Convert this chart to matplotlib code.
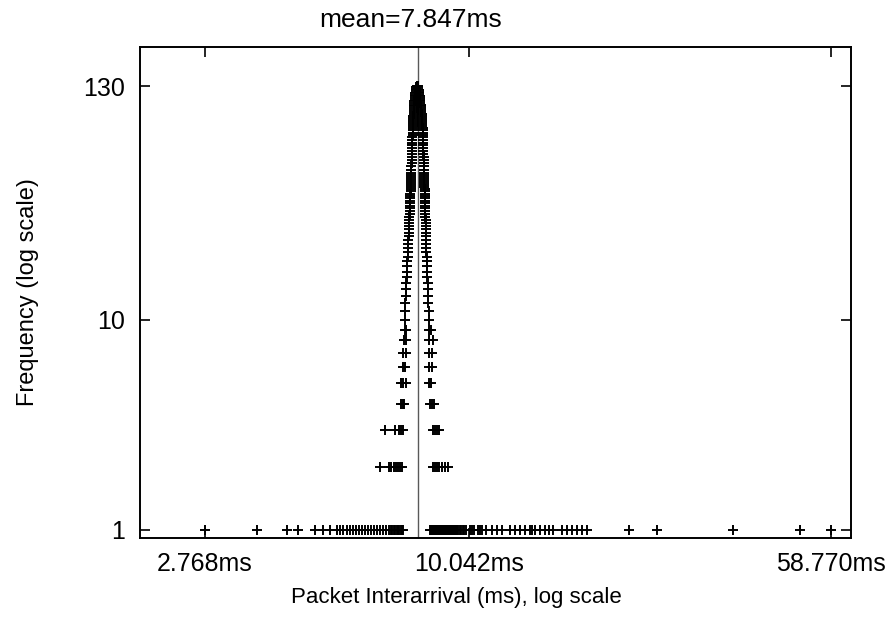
import numpy as np
import matplotlib
matplotlib.use("Agg")
import matplotlib.pyplot as plt
from matplotlib.ticker import NullLocator

plt.rcParams['font.family'] = ['Liberation Sans', 'DejaVu Sans']

mean_ms = 7.847
x_ticks = [2.768, 10.042, 58.770]
x_tick_labels = ["2.768ms", "10.042ms", "58.770ms"]
y_ticks = [1, 10, 130]
y_tick_labels = ["1", "10", "130"]

# interarrival values (ms) seen once
ms_at_1 = [2.768, 3.568, 4.130, 4.360, 4.736, 4.925, 5.096, 5.273, 5.350, 5.429,
           5.536, 5.617, 5.699, 5.783, 5.868, 5.954, 6.042, 6.131, 6.221, 6.313,
           6.406, 6.506, 6.601, 6.698, 6.797, 6.850, 6.897, 6.950, 6.998, 7.050,
           7.101, 7.150, 7.205, 7.240, 7.275,
           8.298, 8.330, 8.360, 8.400, 8.421, 8.460, 8.500, 8.545, 8.580, 8.630,
           8.671, 8.720, 8.760, 8.798, 8.840, 8.890, 8.928, 8.970, 9.020, 9.060,
           9.110, 9.150, 9.194, 9.240, 9.280, 9.330, 9.380, 9.420, 9.467, 9.540,
           9.608, 9.680, 9.750, 9.820, 9.894, 10.09, 10.19, 10.29, 10.49, 10.60,
           10.70, 10.91, 11.23, 11.51, 11.80, 12.26, 12.56, 12.88, 13.20, 13.52,
           13.68, 13.85, 14.20, 14.55, 14.83, 15.13, 15.81, 16.20, 16.60, 17.01,
           17.43, 17.86, 21.92, 25.13, 36.43, 50.50, 58.77]
ms_at_2 = [6.506, 6.797, 6.864, 6.964, 7.032, 7.101, 7.170, 7.240,
           8.421, 8.503, 8.587, 8.671, 8.798, 8.928, 9.060]
ms_at_3 = [6.666, 6.998, 7.135, 7.205, 7.275, 8.421, 8.503, 8.587, 8.671]
ms_at_4 = [7.205, 7.275, 7.311, 8.298, 8.380, 8.462]
ms_at_5 = [7.205, 7.275, 7.382, 8.258, 8.339]
ms_at_6 = [7.275, 7.346, 8.258, 8.380]
ms_at_7 = [7.275, 7.382, 8.258, 8.380]
ms_at_8 = [7.311, 7.382, 8.258, 8.421]
ms_at_9 = [7.346, 7.382, 8.258, 8.339]

# higher counts: one value on each side of the mean
branch_freq = [10, 11, 12, 13, 14, 15, 16, 17, 18, 19, 20, 21, 22, 23, 24, 25,
               26, 27, 28, 29, 30, 31, 32, 33, 34, 35, 36, 37, 38, 39, 40, 41,
               42, 43, 44, 45, 46, 47, 48, 49, 50, 52, 54, 56, 58, 60, 62, 64,
               66, 68, 70, 72, 74, 76, 78, 80, 82, 84, 86, 88, 90, 92, 94, 96,
               98, 100, 102, 104, 106, 108, 110, 112, 114, 116, 118, 120, 122,
               124, 126, 128, 130]
branch_left_ms = [7.346, 7.364, 7.364, 7.382, 7.382, 7.400, 7.418, 7.418, 7.436,
                  7.436, 7.454, 7.454, 7.472, 7.472, 7.472, 7.491, 7.491, 7.491,
                  7.509, 7.509, 7.509, 7.509, 7.527, 7.527, 7.527, 7.527, 7.527,
                  7.545, 7.545, 7.545, 7.545, 7.564, 7.564, 7.564, 7.564, 7.564,
                  7.564, 7.564, 7.582, 7.582, 7.582, 7.582, 7.582, 7.601, 7.601,
                  7.601, 7.601, 7.601, 7.620, 7.620, 7.620, 7.620, 7.620, 7.638,
                  7.638, 7.638, 7.638, 7.638, 7.657, 7.657, 7.657, 7.657, 7.657,
                  7.676, 7.676, 7.676, 7.676, 7.695, 7.695, 7.695, 7.695, 7.713,
                  7.713, 7.713, 7.732, 7.732, 7.751, 7.751, 7.751, 7.770, 7.789]
branch_right_ms = [8.258, 8.258, 8.238, 8.238, 8.218, 8.218, 8.198, 8.198, 8.178,
                   8.178, 8.178, 8.158, 8.158, 8.158, 8.158, 8.138, 8.138, 8.138,
                   8.138, 8.138, 8.138, 8.119, 8.119, 8.119, 8.119, 8.119, 8.099,
                   8.099, 8.099, 8.099, 8.099, 8.099, 8.099, 8.079, 8.079, 8.079,
                   8.079, 8.079, 8.079, 8.079, 8.079, 8.059, 8.059, 8.059, 8.059,
                   8.059, 8.040, 8.040, 8.040, 8.040, 8.040, 8.020, 8.020, 8.020,
                   8.020, 8.020, 8.020, 8.000, 8.000, 8.000, 8.000, 7.981, 7.981,
                   7.981, 7.962, 7.962, 7.962, 7.942, 7.942, 7.923, 7.923, 7.923,
                   7.904, 7.904, 7.885, 7.885, 7.865, 7.865, 7.846, 7.846, 7.827]

low_sets = [ms_at_1, ms_at_2, ms_at_3, ms_at_4, ms_at_5, ms_at_6, ms_at_7, ms_at_8, ms_at_9]
xs, ys = [], []
for f, vals in enumerate(low_sets, start=1):
    xs += vals
    ys += [f] * len(vals)
xs += branch_left_ms + branch_right_ms
ys += branch_freq + branch_freq

fig = plt.figure(figsize=(8.94, 6.26), dpi=100)
ax = fig.add_axes([0.1566, 0.1406, 0.7953, 0.7843])

ax.axvline(mean_ms, color='0.35', lw=1.0, zorder=1)
ax.plot(xs, ys, linestyle='none', marker='+', color='black', markersize=6.5,
        markeredgewidth=1.4, zorder=2)

ax.set_xscale('log')
ax.set_yscale('log')
ax.set_xlim(2.016, 64.8)
ax.set_ylim(0.916, 199.5)
ax.set_xticks(x_ticks)
ax.set_xticklabels(x_tick_labels)
ax.set_yticks(y_ticks)
ax.set_yticklabels(y_tick_labels)
ax.xaxis.set_minor_locator(NullLocator())
ax.yaxis.set_minor_locator(NullLocator())
ax.tick_params(direction='in', length=7, width=1.2, top=True, right=True,
               labelsize=18)
ax.tick_params(axis='x', pad=10)
ax.tick_params(axis='y', pad=11)
for s in ax.spines.values():
    s.set_linewidth(1.4)

fig.text(28 / 894, 1 - 292 / 626, "Frequency (log scale)", rotation=90,
         ha='center', va='center', fontsize=17)
fig.text(456 / 894, 1 - 597 / 626, "Packet Interarrival (ms), log scale",
         ha='center', va='center', fontsize=16)
fig.text(411 / 894, 1 - 20 / 626, "mean=%.3fms" % mean_ms,
         ha='center', va='center', fontsize=19)

fig.savefig("out.png", dpi=100)
